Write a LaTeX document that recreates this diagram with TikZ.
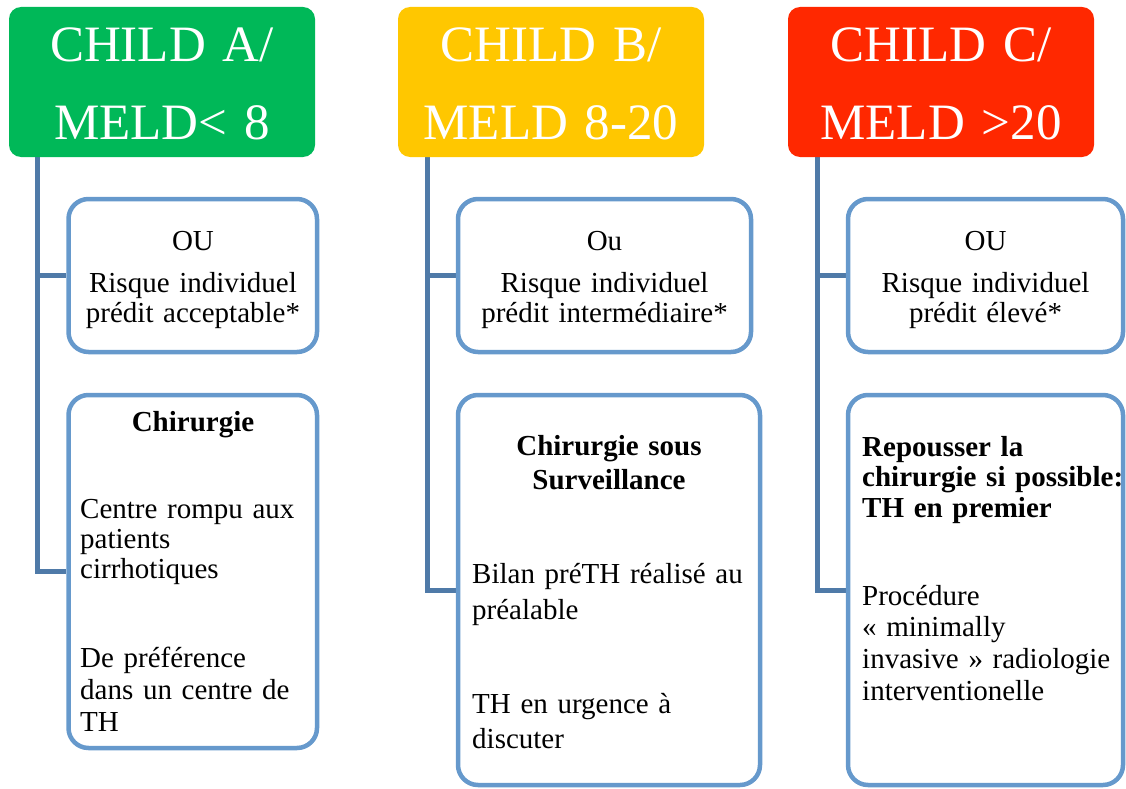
\documentclass[tikz,border=0pt]{standalone}
\usepackage{fontspec}
\setmainfont{Liberation Serif}
\usetikzlibrary{backgrounds}
\definecolor{cgreen}{HTML}{00B858}
\definecolor{cyellow}{HTML}{FFC700}
\definecolor{cred}{HTML}{FF2800}
\definecolor{connc}{HTML}{4F7AA8}
\definecolor{bordc}{HTML}{6699CC}
\newcommand\bsk[1]{\fontsize{29}{#1}\selectfont}
\begin{document}
\begin{tikzpicture}[x=1pt,y=-1pt,
 head/.style={fill=#1, rounded corners=12pt, minimum width=306pt, minimum height=150pt, inner sep=0pt},
 box/.style={draw=bordc, line width=4.5pt, rounded corners=20pt, fill=white, inner sep=0pt},
 htext/.style={text=white, font=\fontsize{51}{78}\selectfont, anchor=base, align=center, text width=300pt, inner sep=0pt},
 ctext/.style={align=center, text width=#1, anchor=base, inner sep=0pt},
 ltext/.style={align=left, text width=#1, anchor=base west, inner sep=0pt},
 connline/.style={draw=connc, line width=5pt}
]
\useasboundingbox (0,0) rectangle (1126,789);

% headers
\node[head=cgreen]  (hA) at (162,82) {};
\node[head=cyellow] (hB) at (551,82) {};
\node[head=cred]    (hC) at (941,82) {};
\node[htext] (tA) at (162,62) {CHILD A/\\MELD< 8};
\node[htext] (tB) at (551,62) {CHILD B/\\MELD 8-20};
\node[htext] (tC) at (941,62) {CHILD C/\\MELD >20};

% connector tops
\coordinate (cA) at (37,157);
\coordinate (cB) at (427,157);
\coordinate (cC) at (817,157);

% boxes
\node[box, minimum width=248.5pt, minimum height=153pt] (a1) at (192.75,275.5) {};
\node[box, minimum width=248.5pt, minimum height=353pt] (a2) at (192.75,571.5) {};
\node[box, minimum width=293pt, minimum height=153pt] (b1) at (604.5,275.5) {};
\node[box, minimum width=302pt, minimum height=390pt] (b2) at (609,590) {};
\node[box, minimum width=275pt, minimum height=153pt] (c1) at (985.5,275.5) {};
\node[box, minimum width=275pt, minimum height=390pt] (c2) at (985.5,590) {};

% connectors
\begin{pgfonlayer}{background}
\draw[connline] (cA) |- (a2.west);
\draw[connline] (cA |- a1.west) -- (a1.west);
\draw[connline] (cB) |- (b2.west);
\draw[connline] (cB |- b1.west) -- (b1.west);
\draw[connline] (cC) |- (c2.west);
\draw[connline] (cC |- c1.west) -- (c1.west);
\end{pgfonlayer}

% A texts
\node[ctext=240pt, font=\bsk{30}] (a1t) at (193,250) {OU\\[12pt]Risque individuel\\prédit acceptable*};
\node[ctext=240pt, font=\bsk{30}\bfseries] (a2h) at (193,431) {Chirurgie};
\node[ltext=230pt, font=\bsk{30}] (a2p) at (80,518) {Centre rompu aux\\patients\\cirrhotiques};
\node[ltext=230pt, font=\bsk{32}] (a2q) at (80,667) {De préférence\\dans un centre de\\TH};

% B texts
\node[ctext=285pt, font=\bsk{30}] (b1t) at (604.5,250) {Ou\\[12pt]Risque individuel\\prédit intermédiaire*};
\node[ctext=290pt, font=\bsk{34}\bfseries] (b2h) at (609,455) {Chirurgie sous\\Surveillance};
\node[ltext=285pt, font=\bsk{36}] (b2p) at (472,583) {Bilan préTH réalisé au\\préalable};
\node[ltext=285pt, font=\bsk{35}] (b2q) at (472,713) {TH en urgence à\\discuter};

% C texts
\node[ctext=265pt, font=\bsk{30}] (c1t) at (985.5,250) {OU\\[12pt]Risque individuel\\prédit élevé*};
\node[ltext=262pt, font=\bsk{30.5}\bfseries] (c2h) at (862,456) {Repousser la\\chirurgie si possible:\\TH en premier};
\node[ltext=262pt, font=\bsk{31.7}] (c2p) at (862,605) {Procédure\\« minimally\\invasive » radiologie\\interventionelle};
\end{tikzpicture}
\end{document}
